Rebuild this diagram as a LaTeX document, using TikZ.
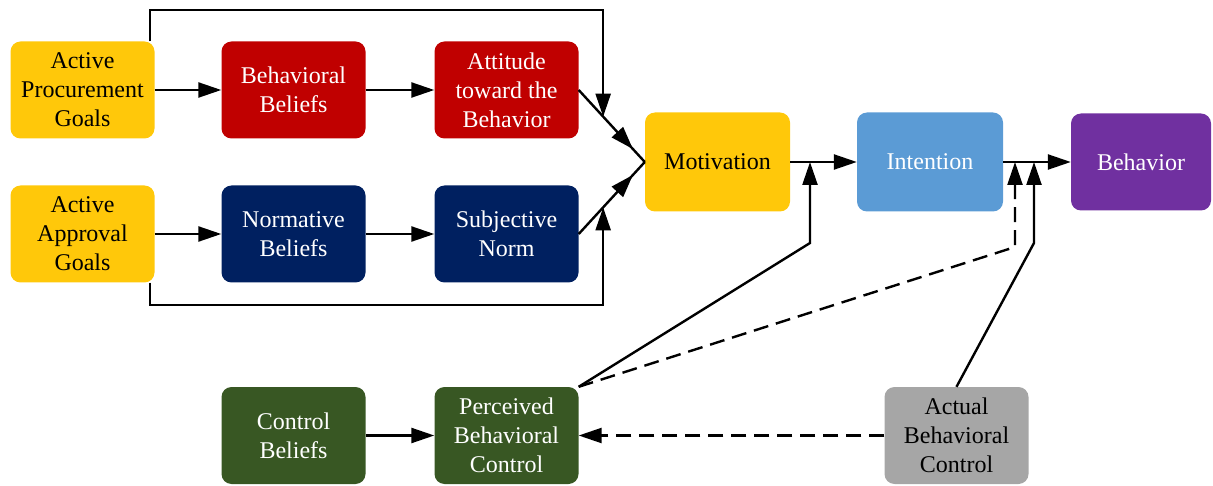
\documentclass[tikz,border=0pt]{standalone}
\usepackage{fontspec}
\setmainfont{Liberation Serif}
\usetikzlibrary{arrows.meta,calc,decorations.markings}

\definecolor{goal}{RGB}{255,200,10}
\definecolor{attred}{RGB}{192,0,0}
\definecolor{normnavy}{RGB}{0,32,96}
\definecolor{intblue}{RGB}{91,155,213}
\definecolor{behpurple}{RGB}{112,48,160}
\definecolor{ctrlgreen}{RGB}{56,87,35}
\definecolor{actgray}{RGB}{166,166,166}

\tikzset{
  box/.style={rounded corners=10pt, minimum width=144pt, minimum height=97pt,
    inner sep=0pt, align=center, font=\fontsize{24}{29}\selectfont},
  lightbox/.style={box, text=black},
  darkbox/.style={box, text=white},
  link/.style={line width=2.4pt, -{Triangle[length=23pt,width=15pt]}},
  dashedlink/.style={link, dash pattern=on 15pt off 8pt},
  midarrow/.style={line width=2.4pt, decoration={markings,
    mark=at position 0.82 with {\arrow{Triangle[length=23pt,width=15pt]}}},
    postaction={decorate}}
}

\begin{document}
\begin{tikzpicture}[x=1pt,y=-1pt]
\useasboundingbox (0,0) rectangle (1213,486);

% first row: procurement goals to attitude
\node[lightbox, fill=goal] (apg) at (82.5,90) {Active\\Procurement\\Goals};
\node[darkbox, fill=attred] (bb) at (293.5,90) {Behavioral\\Beliefs};
\node[darkbox, fill=attred] (att) at (506.5,90) {Attitude\\toward the\\Behavior};

% second row: approval goals to subjective norm
\node[lightbox, fill=goal] (aag) at (82.5,234) {Active\\Approval\\Goals};
\node[darkbox, fill=normnavy] (nb) at (293.5,234) {Normative\\Beliefs};
\node[darkbox, fill=normnavy] (sn) at (506.5,234) {Subjective\\Norm};

% main chain
\node[lightbox, fill=goal, minimum width=145pt, minimum height=99pt] (mot) at (717.5,162) {Motivation};
\node[darkbox, fill=intblue, minimum width=146pt, minimum height=99pt] (int) at (930,162) {Intention};
\node[darkbox, fill=behpurple, minimum width=140pt, minimum height=97pt] (beh) at (1141,162) {Behavior};

% control row
\node[darkbox, fill=ctrlgreen] (cb) at (293.5,435.5) {Control\\Beliefs};
\node[darkbox, fill=ctrlgreen] (pbc) at (506.5,435.5) {Perceived\\Behavioral\\Control};
\node[lightbox, fill=actgray] (abc) at (956.5,435.5) {Actual\\Behavioral\\Control};

% straight links
\draw[link] (apg.east) -- (bb.west);
\draw[link] (bb.east) -- (att.west);
\draw[link] (aag.east) -- (nb.west);
\draw[link] (nb.east) -- (sn.west);
\draw[link] (mot.east) -- (int.west);
\draw[link] (int.east) -- (beh.west);
\draw[link] (cb.east) -- (pbc.west);
\draw[dashedlink] (abc.west) -- (pbc.east);

% converging lines into motivation
\draw[midarrow] (att.east) -- (mot.west);
\draw[midarrow] (sn.east) -- (mot.west);

% bypass loops from the goals
\coordinate (ua) at ($(att.east)!0.37!(mot.west)$);
\coordinate (la) at ($(sn.east)!0.37!(mot.west)$);
\coordinate (apgc) at ([xshift=-5pt]apg.north east);
\coordinate (aagc) at ([xshift=-5pt]aag.south east);
\draw[link] (apgc) -- (apgc |- 0,10) -| (ua);
\draw[link] (aagc) -- (aagc |- 0,305) -| (la);

% perceived and actual control feeding the main chain
\coordinate (k1) at (810,243);
\coordinate (k2) at (1015,247);
\coordinate (k3) at (1034,243);
\draw[link] (pbc.north east) -- (k1) -- (k1 |- mot.east);
\draw[dashedlink] (pbc.north east) -- (k2) -- (k2 |- int.east);
\draw[link] (abc.north) -- (k3) -- (k3 |- int.east);
\end{tikzpicture}
\end{document}
